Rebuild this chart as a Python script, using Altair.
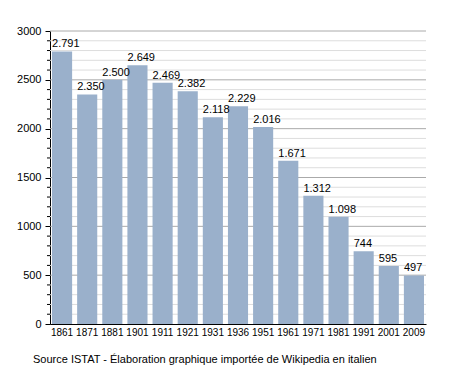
import altair as alt
import pandas as pd

years = ["1861", "1871", "1881", "1901", "1911", "1921", "1931", "1936", "1951",
         "1961", "1971", "1981", "1991", "2001", "2009"]
population = [2791, 2350, 2500, 2649, 2469, 2382, 2118, 2229, 2016, 1671, 1312, 1098, 744, 595, 497]
labels = ["2.791", "2.350", "2.500", "2.649", "2.469", "2.382", "2.118", "2.229", "2.016",
          "1.671", "1.312", "1.098", "744", "595", "497"]
major_ticks = [0, 500, 1000, 1500, 2000, 2500, 3000]
minor_ticks = [v for v in range(100, 3000, 100) if v % 500 != 0]
source_text = "Source ISTAT - Élaboration graphique importée de Wikipedia en italien"

df = pd.DataFrame({"year": years, "pop": population, "label": labels})
FONT = "Liberation Sans"
W, H = 376, 293

yscale = alt.Scale(domain=[0, 3000], nice=False)
xscale = alt.Scale(paddingInner=0.2, paddingOuter=0.08)
yaxis = alt.Axis(title=None, values=major_ticks, format="d", tickSize=5, tickColor="#000000",
                 domainColor="#000000", grid=False, labelFont=FONT, labelFontSize=11,
                 labelColor="#000000", labelPadding=4, labelOverlap=False)

minor_df = pd.DataFrame({"v": minor_ticks})
major_df = pd.DataFrame({"v": [v for v in major_ticks if v > 0]})

minor_grid = alt.Chart(minor_df).mark_rule(color="#dddddd", strokeWidth=1).encode(
    y=alt.Y("v:Q", scale=yscale, axis=yaxis), x=alt.value(0), x2=alt.value(W))
major_grid = alt.Chart(major_df).mark_rule(color="#aaaaaa", strokeWidth=1).encode(
    y=alt.Y("v:Q", scale=yscale, axis=yaxis), x=alt.value(0), x2=alt.value(W))
minor_tick = alt.Chart(minor_df).mark_rule(color="#000000", strokeWidth=1).encode(
    y=alt.Y("v:Q", scale=yscale, axis=yaxis), x=alt.value(-3), x2=alt.value(0))

bars = alt.Chart(df).mark_bar(color="#9ab0cb").encode(
    x=alt.X("year:N", scale=xscale, sort=None,
            axis=alt.Axis(title=None, labelAngle=0, ticks=False, domainColor="#000000",
                          labelFont=FONT, labelFontSize=10, labelColor="#000000", labelPadding=3,
                          labelOverlap=False)),
    y=alt.Y("pop:Q", scale=yscale, axis=yaxis),
)

text = alt.Chart(df).mark_text(align="left", baseline="bottom", dx=-10, dy=-2,
                               font=FONT, fontSize=11, color="#000000").encode(
    x=alt.X("year:N", scale=xscale, sort=None),
    y=alt.Y("pop:Q", scale=yscale, axis=yaxis),
    text="label:N",
)

caption = alt.Chart(pd.DataFrame({"t": [source_text]})).mark_text(
    align="left", baseline="middle", font=FONT, fontSize=11, color="#000000"
).encode(x=alt.value(-17), y=alt.value(329), text="t:N")

chart = alt.layer(minor_grid, major_grid, bars, minor_tick, text, caption).properties(
    width=W, height=H,
    autosize=alt.AutoSizeParams(type="none"),
    padding={"left": 42, "top": 23, "right": 21, "bottom": 42},
).configure_view(stroke=None)

chart.save("out.html", embed_options={"renderer": "svg", "actions": False})
